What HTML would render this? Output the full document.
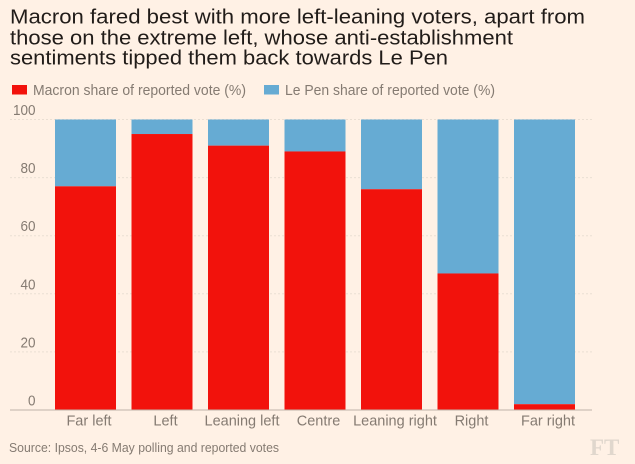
<!DOCTYPE html>
<html>
<head>
<meta charset="utf-8">
<style>
html,body{margin:0;padding:0;background:#fff1e5;width:635px;height:464px;overflow:hidden}
svg{display:block;font-family:"Liberation Sans",sans-serif}
</style>
</head>
<body>
<svg id="chart" width="635" height="464" viewBox="0 0 635 464" xmlns="http://www.w3.org/2000/svg">
  <rect width="635" height="464" fill="#fff1e5"/>
  <g font-size="20.5" fill="#211c19">
    <text x="10" y="23.5" textLength="575" lengthAdjust="spacingAndGlyphs">Macron fared best with more left-leaning voters, apart from</text>
    <text x="10" y="44.5" textLength="503" lengthAdjust="spacingAndGlyphs">those on the extreme left, whose anti-establishment</text>
    <text x="10" y="64.5" textLength="438" lengthAdjust="spacingAndGlyphs">sentiments tipped them back towards Le Pen</text>
  </g>
  <g>
    <rect x="12" y="85" width="15" height="9.5" fill="#f2120c"/>
    <text x="33" y="95" font-size="14.5" fill="#857b72" textLength="213" lengthAdjust="spacingAndGlyphs">Macron share of reported vote (%)</text>
    <rect x="264" y="85" width="15" height="9.5" fill="#66abd3"/>
    <text x="285" y="95" font-size="14.5" fill="#857b72" textLength="210" lengthAdjust="spacingAndGlyphs">Le Pen share of reported vote (%)</text>
  </g>
  <g id="grid"></g>
  <g id="bars"></g>
  <g id="ylabels"></g>
  <g id="xlabels"></g>
  <line x1="10" x2="592" y1="410" y2="410" stroke="#bfb4a9" stroke-width="1"/>
  <text x="9" y="452" font-size="12.5" fill="#857b72" textLength="270" lengthAdjust="spacingAndGlyphs">Source: Ipsos, 4-6 May polling and reported votes</text>
  <text x="590" y="455" font-family="Liberation Serif, serif" font-weight="bold" font-size="23" fill="#e0d7cd">FT</text>
</svg>
<script>
const categories = ["Far left", "Left", "Leaning left", "Centre", "Leaning right", "Right", "Far right"];
const macronShare = [77, 95, 91, 89, 76, 47, 2];
const lePenShare = [23, 5, 9, 11, 24, 53, 98];
const yTicks = [0, 20, 40, 60, 80, 100];

const NS = "http://www.w3.org/2000/svg";
const yScale = v => 410 - (v / 100) * 290.5;
const bandLeft = i => 55 + i * 76.5;
const barWidth = 61;

function mk(tag, attrs, parent) {
  const el = document.createElementNS(NS, tag);
  for (const k in attrs) el.setAttribute(k, attrs[k]);
  parent.appendChild(el);
  return el;
}

const grid = document.getElementById("grid");
const ylabels = document.getElementById("ylabels");
yTicks.forEach(t => {
  if (t > 0) {
    const ln = mk("line", {x1: 10, x2: 592, y1: yScale(t), y2: yScale(t), stroke: "#eadfd3", "stroke-width": 1, "stroke-dasharray": "2 2"}, grid);
    
    
  }
  const lb = mk("text", {x: 35.5, y: yScale(t) - 4.5, "text-anchor": "end", "font-size": 14.5, fill: "#857b72", textLength: String(t).length * 7.5, lengthAdjust: "spacingAndGlyphs"}, ylabels);
  
  
  lb.textContent = t;
});

const bars = document.getElementById("bars");
const xlabels = document.getElementById("xlabels");
categories.forEach((c, i) => {
  const m = macronShare[i];
  const l = lePenShare[i];
  const top = mk("rect", {x: bandLeft(i), width: barWidth, y: yScale(m + l), height: yScale(m) - yScale(m + l), fill: "#66abd3"}, bars);
  
  
  const bot = mk("rect", {x: bandLeft(i), width: barWidth, y: yScale(m), height: yScale(0) - yScale(m), fill: "#f2120c"}, bars);
  
  
  const tx = mk("text", {x: bandLeft(i) + barWidth / 2 + 3.5, y: 425.5, "text-anchor": "middle", "font-size": 14.5, fill: "#857b72"}, xlabels);
  
  
  tx.textContent = c;
});
</script>
</body>
</html>
